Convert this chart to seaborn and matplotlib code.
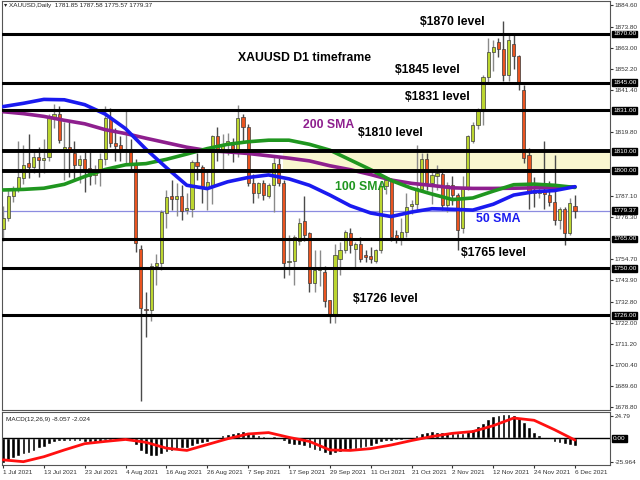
import numpy as np
import matplotlib
matplotlib.use("Agg")
import matplotlib.pyplot as plt
import seaborn as sns
from matplotlib.transforms import blended_transform_factory as btf

sns.set_style("white")
plt.rcParams['font.family'] = ['Liberation Sans', 'DejaVu Sans']

# ---------------- data (XAUUSD daily, 1 Jul 2021 - 6 Dec 2021) ----------------
opens = [1770, 1776, 1787, 1791, 1796, 1804, 1802, 1807, 1805.5, 1807,
         1827, 1829, 1811, 1812, 1809, 1803, 1806, 1801.5, 1798, 1800,
         1806, 1827, 1814, 1813, 1810.5, 1811, 1804, 1760, 1729, 1728.5,
         1751, 1752.5, 1778.5, 1787, 1785.5, 1787, 1780, 1780.5, 1804.5, 1802,
         1791, 1792, 1817.5, 1810.5, 1813.5, 1813, 1809.5, 1827.5, 1822.5, 1793.5,
         1788.5, 1793.5, 1787, 1792.5, 1803.5, 1793.5, 1753, 1753.5, 1764, 1774,
         1768, 1742.5, 1749, 1748, 1733.5, 1726, 1755, 1759.5, 1768, 1760,
         1762.5, 1756.5, 1756.5, 1753.5, 1759.5, 1792, 1795, 1767, 1765.5, 1768.5,
         1782, 1783, 1790.5, 1806, 1793.5, 1797.5, 1798.5, 1782.5, 1792.5, 1787.5,
         1770.5, 1791, 1815, 1823.5, 1831, 1848, 1861, 1866, 1862.5, 1849,
         1865, 1858.5, 1841.5, 1808, 1789.5, 1788.5, 1790, 1787.5, 1784, 1774.5,
         1780.5, 1768, 1781.85]
highs = [1782, 1790, 1792, 1815, 1813, 1819, 1811, 1812, 1816, 1829,
         1834, 1833, 1825, 1825, 1815, 1808, 1810.5, 1811, 1803, 1809,
         1833, 1832, 1822, 1818, 1831.5, 1816, 1806, 1762, 1738, 1752.5,
         1757.5, 1780, 1790, 1795, 1793.5, 1792.5, 1788.5, 1805.5, 1809, 1803,
         1800, 1818.5, 1822.5, 1819, 1819.5, 1816.5, 1833.5, 1829, 1824, 1798.5,
         1794, 1795, 1793.5, 1808, 1806.5, 1795, 1767, 1767, 1776, 1787,
         1768.5, 1759.5, 1759.5, 1751, 1734, 1762.5, 1763.5, 1769.5, 1770.5, 1763.5,
         1766, 1759.5, 1761, 1760, 1794.5, 1797.5, 1796, 1769.5, 1775.5, 1788.5,
         1785, 1813, 1809, 1809, 1800, 1803, 1801, 1794, 1797.5, 1788.5,
         1797.5, 1818.5, 1825, 1832, 1849, 1868, 1867, 1868, 1876.5, 1869.5,
         1869.5, 1859, 1844, 1811.5, 1797, 1791, 1815, 1794.5, 1808, 1781.5,
         1781.5, 1786, 1787.58]
lows = [1764, 1774, 1784, 1789, 1793, 1796, 1799, 1797, 1799, 1805,
        1822, 1814, 1795, 1797, 1795, 1793.5, 1789, 1792.5, 1793, 1792,
        1803, 1812, 1805, 1805, 1803, 1800, 1758.5, 1682, 1715, 1723,
        1741.5, 1749, 1770.5, 1780, 1777, 1774.5, 1778, 1776.5, 1795, 1783.5,
        1780, 1783, 1805, 1801, 1808, 1804.5, 1807, 1815, 1792, 1783.5,
        1786, 1785, 1786, 1779, 1792, 1745, 1746.5, 1741.5, 1762, 1764,
        1738, 1738, 1741, 1730, 1722, 1722, 1746.5, 1758, 1758, 1750,
        1753, 1753, 1752.5, 1752.5, 1758, 1788, 1764, 1763, 1762, 1766,
        1778, 1780, 1789, 1790, 1783, 1790, 1780, 1779, 1782.5, 1759.5,
        1768, 1790, 1814, 1821.5, 1823.5, 1845.5, 1851, 1858, 1846, 1846,
        1852, 1841.5, 1804, 1780.5, 1781.5, 1786, 1780.5, 1782, 1772, 1770,
        1762, 1767, 1775.57]
closes = [1776, 1787, 1791, 1797, 1803, 1802, 1807, 1805.5, 1806.5, 1827,
          1829, 1815.5, 1812, 1810, 1803, 1806, 1801, 1797.5, 1799, 1806,
          1827, 1814, 1812.5, 1810.5, 1811, 1804, 1763, 1729.5, 1728.5, 1751,
          1752.5, 1779, 1786.5, 1785.5, 1787, 1779.5, 1781, 1804.5, 1802.5, 1791,
          1794, 1817.5, 1809.5, 1813.5, 1815, 1809.5, 1827, 1822.5, 1793.5, 1788.5,
          1793.5, 1787.5, 1792.5, 1804, 1793.5, 1752.5, 1753.5, 1766, 1773, 1767,
          1742.5, 1749, 1750.5, 1733, 1726, 1757, 1759.5, 1768.5, 1762, 1762.5,
          1754.5, 1756, 1755, 1759.5, 1792, 1795, 1766, 1765.5, 1768.5, 1781.5,
          1783, 1791, 1806, 1793.5, 1798, 1799, 1782.5, 1792.5, 1787.5, 1769.5,
          1791, 1817.5, 1823.5, 1831, 1848, 1861, 1863.5, 1862.5, 1849, 1867,
          1858.5, 1844.5, 1806.5, 1789, 1788.5, 1790, 1788, 1784, 1774.5, 1780.5,
          1768, 1783.5, 1779.37]

# moving averages read every 4 bars
ma_idx = list(range(0, 113, 4))
sma50 = [1832.8, 1834.5, 1836.5, 1836.3, 1833.8, 1829.0, 1821.5, 1811.0, 1801.5, 1792.5,
         1790.8, 1794.3, 1796.5, 1797.8, 1795.8, 1792.5, 1787.5, 1782.0, 1778.3, 1776.5,
         1778.8, 1780.5, 1780.2, 1779.8, 1782.8, 1787.5, 1789.2, 1789.8, 1791.8]
sma100 = [1790.1, 1790.4, 1791.0, 1793.0, 1797.0, 1800.6, 1803.0, 1803.6, 1805.8, 1808.5,
          1811.3, 1813.5, 1814.8, 1815.6, 1815.6, 1813.5, 1810.5, 1805.5, 1800.5, 1795.0,
          1791.0, 1788.0, 1785.2, 1786.0, 1789.5, 1792.8, 1793.1, 1792.5, 1791.4]
sma200 = [1830.2, 1829.2, 1827.8, 1825.8, 1824.0, 1821.0, 1819.0, 1816.6, 1814.3, 1812.0,
          1810.3, 1809.6, 1808.8, 1807.6, 1806.4, 1805.0, 1802.5, 1800.5, 1798.0, 1795.2,
          1793.5, 1792.4, 1791.2, 1790.9, 1790.9, 1791.0, 1791.2, 1791.4, 1791.7]

macd = [-27, -24.5, -22, -19.6, -17.4, -16, -13.7, -11, -9.3, -6.3,
        -4, -3.3, -3, -3, -3.3, -3.3, -3.7, -3.7, -4, -3.7,
        -1.9, -1.9, -1.9, -1.9, -1.9, -2.6, -7.4, -13.7, -17.4, -19.3,
        -19.6, -17.4, -14.8, -13.7, -12.2, -11.1, -10.4, -8.5, -6.7, -5.6,
        -4.1, -1.1, 1.9, 3.7, 4.8, 5.6, 7.4, 8.5, 6.3, 4.4,
        3.3, 2.6, 1.9, 2.6, 1.9, -3, -6.3, -7.4, -7.8, -8.5,
        -11.1, -13, -14, -16.7, -18.5, -16.7, -15.2, -13.7, -12.2, -11.5,
        -11.1, -10, -8.1, -6.3, -4.1, -3, -2.6, -2.2, -1.5, -0.4,
        1.5, 3.7, 5.6, 6.7, 7.8, 7.4, 6.7, 5.9, 5.9, 5.6,
        6.3, 8.9, 10.7, 13.7, 17.4, 21.1, 24.8, 26.3, 26.7, 27,
        25.9, 23.3, 18.5, 13, 7.4, 3.7, 1.1, -1.1, -3.7, -5.6,
        -6.5, -7.5, -8.057]
signal = [-24, -26, -20.5, -13, -6, -3.5, -1.3, -4.5, -11, -13.5,
          -7, -0.5, 4.8, 6.3, 1, -3.5, -13, -13.5, -11.5, -7.5,
          -2.5, 2, 5.5, 7.5, 14, 22.5, 20, 9.5, -2.024]

levels = [1870, 1845, 1831, 1810, 1800, 1765, 1750, 1726]
current = 1779.37
price_ticks = [1884.6, 1873.8, 1863.0, 1852.2, 1841.4, 1819.8, 1787.1, 1776.3,
               1754.7, 1743.9, 1732.8, 1722.0, 1711.2, 1700.4, 1689.6, 1678.8]
date_labels = ["1 Jul 2021", "13 Jul 2021", "23 Jul 2021", "4 Aug 2021", "16 Aug 2021",
               "26 Aug 2021", "7 Sep 2021", "17 Sep 2021", "29 Sep 2021", "11 Oct 2021",
               "21 Oct 2021", "2 Nov 2021", "12 Nov 2021", "24 Nov 2021", "6 Dec 2021"]

# ---------------- figure ----------------
W, H = 640, 480
SMALL = 4.6
fig = plt.figure(figsize=(6.4, 4.8), dpi=100)
fig.patch.set_facecolor("white")
ax = fig.add_axes([2 / W, 70 / H, 608 / W, 409 / H])
axm = fig.add_axes([2 / W, 15 / H, 608 / W, 53 / H])

x = np.arange(len(opens))
o = np.array(opens); hgh = np.array(highs); low = np.array(lows); c = np.array(closes)
xlim = (-0.196, 118.86)

bull, bear = "#bcd630", "#ea5420"
cols = np.where(c >= o, bull, bear)
wick = np.where(c >= o, "#8a8a8a", "#4a4a4a")

ax.axhspan(1800, 1810, xmin=0.462, xmax=1.0, fc="#f9f6cf", ec="none", zorder=0.5)
ax.axhline(current, color="#8c8ce0", lw=0.9, zorder=1)
ax.vlines(x, low, hgh, colors=wick, lw=1.0, zorder=2)
ax.bar(x, np.maximum(np.abs(c - o), 0.6), bottom=np.minimum(o, c), width=0.62,
       color=cols, edgecolor="#3c3c3c", linewidth=0.5, zorder=2.5)

sns.lineplot(x=ma_idx, y=sma200, ax=ax, color="#8e1f8e", lw=2.6, zorder=3)
sns.lineplot(x=ma_idx, y=sma100, ax=ax, color="#1f961f", lw=2.6, zorder=3)
sns.lineplot(x=ma_idx, y=sma50, ax=ax, color="#1a1af0", lw=2.6, zorder=3.1)

for lv in levels:
    ax.axhline(lv, color="black", lw=2.8 if lv in (1810, 1800) else 2.2, zorder=4)

ax.set_xlim(*xlim)
ax.set_ylim(1677.4, 1886.9)
ax.set_xticks([])
ax.yaxis.tick_right()
ax.set_yticks(price_ticks)
ax.set_yticklabels([f"{v:.2f}" for v in price_ticks])
ax.tick_params(axis="y", labelsize=SMALL, length=2, pad=1.5, colors="#333333", right=True)
for s in ax.spines.values():
    s.set_color("#555555"); s.set_linewidth(0.8)
ax.set_xlabel(""); ax.set_ylabel("")

tr = btf(ax.transAxes, ax.transData)
for v in levels + [current]:
    ax.text(1.005, v, f"{v:.2f}", transform=tr, fontsize=SMALL, color="white",
            va="center", ha="left", clip_on=False, zorder=10,
            bbox=dict(boxstyle="square,pad=0.15", fc="black", ec="black"))

# ---------------- MACD panel ----------------
axm.bar(x, macd, width=0.72, color="black", zorder=2)
axm.axhline(0, color="black", lw=1.0, zorder=2)
sns.lineplot(x=ma_idx, y=signal, ax=axm, color="#ff1010", lw=2.0, zorder=3)
axm.set_xlim(*xlim)
axm.set_ylim(-29.7, 29.2)
axm.yaxis.tick_right()
axm.set_yticks([24.79, -25.964])
axm.set_yticklabels(["24.79", "-25.964"])
axm.tick_params(axis="y", labelsize=SMALL, length=2, pad=1.5, colors="#333333", right=True)
axm.set_xticks(list(range(0, 113, 8)))
axm.set_xticklabels(date_labels, ha="left")
axm.tick_params(axis="x", labelsize=SMALL, length=2, pad=1.5, colors="#333333", bottom=True)
for s in axm.spines.values():
    s.set_color("#555555"); s.set_linewidth(0.8)
axm.set_xlabel(""); axm.set_ylabel("")
trm = btf(axm.transAxes, axm.transData)
axm.text(1.005, 0, "0.00", transform=trm, fontsize=SMALL, color="white", va="center",
         ha="left", clip_on=False, zorder=10,
         bbox=dict(boxstyle="square,pad=0.15", fc="black", ec="black"))
axm.text(0.006, 0.86, "MACD(12,26,9) -8.057 -2.024", transform=axm.transAxes,
         fontsize=SMALL, color="#222222", va="center", ha="left")

# ---------------- annotations ----------------
fig.text(4 / W, 1 - 6 / H, "\u25be XAUUSD,Daily  1781.85 1787.58 1775.57 1779.37",
         fontsize=SMALL, color="#222222", va="center", ha="left")

def label(px, py, s, color="black"):
    fig.text(px / W, 1 - py / H, s, fontsize=8.8, fontweight="bold", color=color,
             family=["Liberation Sans", "DejaVu Sans"], ha="center", va="center")

label(452.5, 22, "$1870 level")
label(304, 58, "XAUUSD D1 timeframe")
label(427, 70, "$1845 level")
label(437.5, 97, "$1831 level")
label(329, 125, "200 SMA", "#8e1f8e")
label(390.5, 133, "$1810 level")
label(361, 187, "100 SMA", "#1f961f")
label(498.5, 219, "50 SMA", "#1a1af0")
label(493.5, 252.5, "$1765 level")
label(385.5, 299, "$1726 level")

fig.savefig("out.png", dpi=100)
